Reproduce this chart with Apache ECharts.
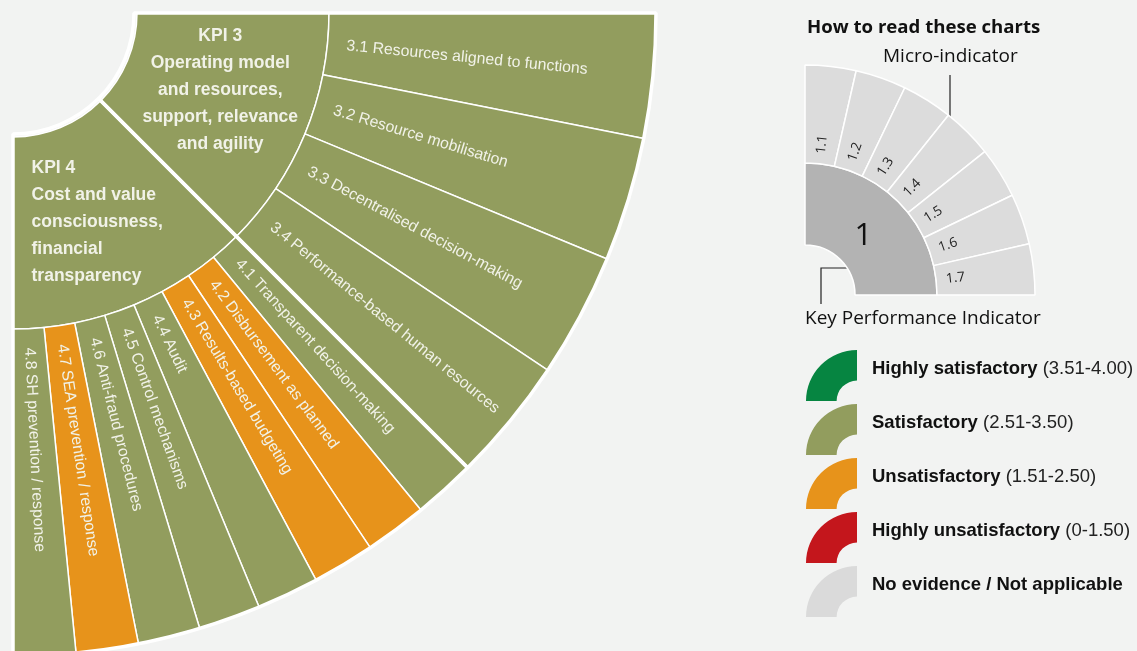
<!DOCTYPE html>
<html><head><meta charset="utf-8">
<script src="https://cdn.jsdelivr.net/npm/echarts@6/dist/echarts.min.js"></script>
<style>html,body{margin:0;padding:0;background:#f2f3f2;} #c{width:1137px;height:651px;}</style>
</head><body><div id="c"></div>
<script>
// ---- data ----
const kpiNames = ['KPI 3', 'KPI 4'];
const kpiTitles = [
  ['Operating model', 'and resources,', 'support, relevance', 'and agility'],
  ['Cost and value', 'consciousness,', 'financial', 'transparency']
];
const kpiRatings = ['Satisfactory', 'Satisfactory'];
const kpi3Micro = ['3.1 Resources aligned to functions', '3.2 Resource mobilisation', '3.3 Decentralised decision-making', '3.4 Performance-based human resources'];
const kpi3Ratings = ['Satisfactory', 'Satisfactory', 'Satisfactory', 'Satisfactory'];
const kpi4Micro = ['4.1 Transparent decision-making', '4.2 Disbursement as planned', '4.3 Results-based budgeting', '4.4 Audit', '4.5 Control mechanisms', '4.6 Anti-fraud procedures', '4.7 SEA prevention / response', '4.8 SH prevention / response'];
const kpi4Ratings = ['Satisfactory', 'Unsatisfactory', 'Unsatisfactory', 'Satisfactory', 'Satisfactory', 'Satisfactory', 'Unsatisfactory', 'Satisfactory'];
const ratingNames = ['Highly satisfactory', 'Satisfactory', 'Unsatisfactory', 'Highly unsatisfactory', 'No evidence / Not applicable'];
const ratingRanges = ['(3.51-4.00)', '(2.51-3.50)', '(1.51-2.50)', '(0-1.50)', ''];
const ratingColors = ['#068541', '#929d5e', '#e7931b', '#c4161c', '#dadada'];
const sampleKpi = '1';
const sampleMicro = ['1.1', '1.2', '1.3', '1.4', '1.5', '1.6', '1.7'];

// ---- build ----
const colorOf = r => ratingColors[ratingNames.indexOf(r)];
const NARROW = "'Liberation Sans',Arial,sans-serif";
const LABEL_COL = '#f1f2e8';
const HIDDEN = { itemStyle: { color: 'rgba(0,0,0,0)', borderWidth: 0 }, label: { show: false } };

function kpiNode(i, micros, ratings, align, padding) {
  const lines = ['{t|' + kpiNames[i] + '}'].concat(kpiTitles[i].map(s => '{t|' + s + '}'));
  return {
    name: kpiNames[i],
    itemStyle: { color: colorOf(kpiRatings[i]) },
    label: {
      rotate: 0,
      formatter: lines.join('\n'),
      padding: padding,
      rich: { t: { fontFamily: NARROW, fontWeight: 'bold', fontSize: 17.5, lineHeight: 27, color: LABEL_COL, align: align } }
    },
    children: micros.map((m, j) => ({ name: m, value: 8 / micros.length, itemStyle: { color: colorOf(ratings[j]) } }))
  };
}

const mainData = [
  kpiNode(0, kpi3Micro, kpi3Ratings, 'center', [0, 0, 14, 8]),
  kpiNode(1, kpi4Micro, kpi4Ratings, 'left', [11, 0, 0, 0]),
  Object.assign({ name: '', value: 48 }, HIDDEN)
];

const sampleData = [
  {
    name: sampleKpi,
    itemStyle: { color: '#b3b3b3' },
    label: {
      rotate: 0, formatter: '{n|' + sampleKpi + '}', padding: [12, 12, 0, 0],
      rich: { n: { fontSize: 31, color: '#111', fontFamily: "'Open Sans',sans-serif" } }
    },
    children: sampleMicro.map(m => ({ name: m, value: 1, itemStyle: { color: '#dcdcdc' } }))
  },
  Object.assign({ name: '', value: 21 }, HIDDEN)
];

const legendSeries = ratingNames.map((n, i) => ({
  type: 'custom', name: n, coordinateSystem: 'none', data: [],
  renderItem: () => null, itemStyle: { color: ratingColors[i] }
}));

const option = {
  backgroundColor: '#f2f3f2',
  animation: false,
  title: {
    text: 'How to read these charts', left: 807, top: 18, padding: 0,
    textStyle: { fontFamily: "'Open Sans',sans-serif", fontWeight: 'bold', fontSize: 18.6, color: '#111' }
  },
  legend: {
    orient: 'vertical', left: 806, top: 350, padding: 0, itemWidth: 51, itemHeight: 51, itemGap: 3,
    selectedMode: false,
    icon: 'path://M0,50 A50,50 0 0 1 50,0 L50,30 A20,20 0 0 0 30,50 Z',
    data: ratingNames,
    formatter: name => {
      const i = ratingNames.indexOf(name);
      return '{b|' + name + '}' + (ratingRanges[i] ? '{r| ' + ratingRanges[i] + '}' : '');
    },
    textStyle: {
      rich: {
        b: { fontFamily: "'Liberation Sans',sans-serif", fontWeight: 'bold', fontSize: 18.5, color: '#111', padding: [0, 0, 14, 10] },
        r: { fontFamily: "'Liberation Sans',sans-serif", fontSize: 18.5, color: '#222', padding: [0, 0, 14, 0] }
      }
    }
  },
  graphic: [
    { type: 'text', left: 883, top: 47, style: { text: 'Micro-indicator', font: "19px 'Open Sans',sans-serif", fill: '#111' } },
    { type: 'line', shape: { x1: 950, y1: 75, x2: 950, y2: 147 }, style: { stroke: '#222', lineWidth: 1.2 } },
    { type: 'circle', shape: { cx: 950, cy: 147, r: 2.6 }, style: { fill: '#111' } },
    { type: 'polyline', shape: { points: [[821, 304], [821, 268], [876, 268]] }, style: { stroke: '#222', lineWidth: 1.2, fill: null } },
    { type: 'circle', shape: { cx: 876, cy: 268, r: 2.6 }, style: { fill: '#111' } },
    { type: 'text', left: 805, top: 309, style: { text: 'Key Performance Indicator', font: "19px 'Open Sans',sans-serif", fill: '#111' } }
  ],
  series: [
    {
      type: 'sunburst', center: [13, 13], radius: [124, 643], startAngle: 0, clockwise: true,
      sort: null, nodeClick: false, emphasis: { disabled: true }, silent: true,
      itemStyle: { borderColor: '#ffffff', borderWidth: 1.5 },
      levels: [
        {},
        { r0: 124, r: 316 },
        { r0: 316, r: 643, label: { rotate: 'radial', align: 'left', distance: 19, fontFamily: NARROW, fontSize: 15.8, color: LABEL_COL } }
      ],
      data: mainData
    },
    {
      type: 'sunburst', center: [13, 13], radius: [121, 643], startAngle: 0, clockwise: true,
      sort: null, nodeClick: false, emphasis: { disabled: true }, silent: true,
      levels: [{}, { r0: 121, r: 643 }],
      data: [
        { name: 'a', value: 1, itemStyle: { color: 'rgba(0,0,0,0)', borderColor: '#ffffff', borderWidth: 3.5 }, label: { show: false } },
        { name: 'b', value: 1, itemStyle: { color: 'rgba(0,0,0,0)', borderColor: '#ffffff', borderWidth: 3.5 }, label: { show: false } },
        Object.assign({ name: '', value: 6 }, HIDDEN)
      ]
    },
    {
      type: 'sunburst', center: [805, 295], radius: [50, 230], startAngle: 90, clockwise: true,
      sort: null, nodeClick: false, emphasis: { disabled: true }, silent: true,
      itemStyle: { borderColor: '#ffffff', borderWidth: 1.5 },
      levels: [
        {},
        { r0: 50, r: 132 },
        { r0: 132, r: 230, label: { rotate: 'radial', align: 'left', distance: 10, fontFamily: "'Open Sans',sans-serif", fontSize: 13.5, color: '#222' } }
      ],
      data: sampleData
    }
  ].concat(legendSeries)
};

const chart = echarts.init(document.getElementById('c'), null, { renderer: 'canvas' });
chart.setOption(option);
</script>
</body></html>
